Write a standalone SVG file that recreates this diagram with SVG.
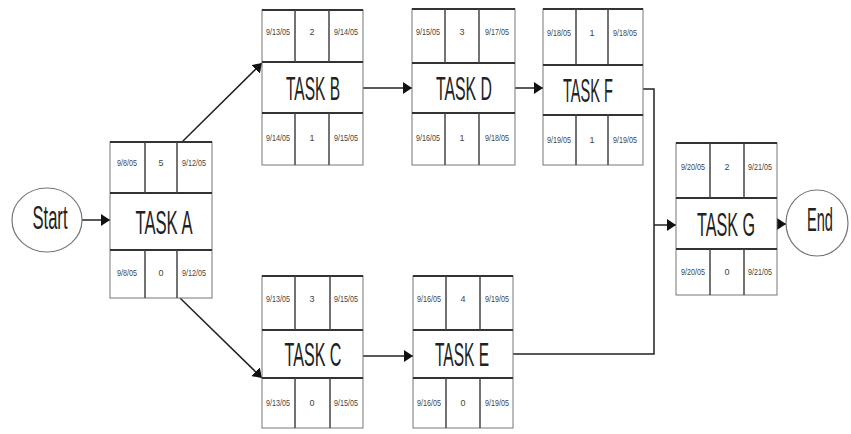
<svg xmlns="http://www.w3.org/2000/svg" width="851" height="434" viewBox="0 0 851 434">
<defs>
<marker id="arr" viewBox="0 0 9 12" refX="9" refY="6" markerWidth="9" markerHeight="12" markerUnits="userSpaceOnUse" orient="auto">
<path d="M0,0 L9,6 L0,12 z" fill="#111"/>
</marker>
<style>
.box{fill:#fff;stroke:#777;stroke-width:1}
.sep{stroke:#333;stroke-width:2}
.div{stroke:#444;stroke-width:1.5}
.name{font-family:"Liberation Sans",Arial,sans-serif;font-size:34px;fill:#222;text-anchor:middle}
.sm{font-family:"Liberation Sans",Arial,sans-serif;font-size:9px;fill:#444;text-anchor:middle}
.term{fill:#fff;stroke:#777;stroke-width:1.2}
.conn{fill:none;stroke:#222;stroke-width:1.5}
</style>
</defs>
<rect width="851" height="434" fill="#fff"/>

<g id="connectors">
<line class="conn" x1="82" y1="220" x2="110" y2="220" marker-end="url(#arr)"/>
<line class="conn" x1="182" y1="142" x2="262" y2="63" marker-end="url(#arr)"/>
<line class="conn" x1="180" y1="298" x2="262" y2="378" marker-end="url(#arr)"/>
<line class="conn" x1="363" y1="88" x2="412" y2="88" marker-end="url(#arr)"/>
<line class="conn" x1="515" y1="88" x2="543" y2="88" marker-end="url(#arr)"/>
<line class="conn" x1="363" y1="356" x2="413" y2="356" marker-end="url(#arr)"/>
<path class="conn" d="M643,89 H654 V354 H513"/>
<line class="conn" x1="654" y1="225" x2="676" y2="225" marker-end="url(#arr)"/>
<line class="conn" x1="777" y1="224" x2="786" y2="224" marker-end="url(#arr)"/>
</g>

<g id="start">
<ellipse class="term" cx="47" cy="220" rx="35" ry="32"/>
<text class="name" x="50" y="229" textLength="35" lengthAdjust="spacingAndGlyphs" font-size="30">Start</text>
</g>

<g id="end">
<ellipse class="term" cx="817" cy="223" rx="31" ry="33"/>
<text class="name" x="820" y="231" textLength="26" lengthAdjust="spacingAndGlyphs" font-size="26">End</text>
</g>

<g id="taskA">
<rect class="box" x="110" y="142" width="102" height="156"/>
<line class="sep" x1="110" y1="142" x2="212" y2="142"/>
<line class="sep" x1="110" y1="193" x2="212" y2="193"/>
<line class="sep" x1="110" y1="250" x2="212" y2="250"/>
<line class="div" x1="145" y1="142" x2="145" y2="193"/>
<line class="div" x1="177" y1="142" x2="177" y2="193"/>
<line class="div" x1="145" y1="250" x2="145" y2="298"/>
<line class="div" x1="177" y1="250" x2="177" y2="298"/>
<text class="sm" x="127" y="166" textLength="20" lengthAdjust="spacingAndGlyphs">9/8/05</text>
<text class="sm" x="161" y="166">5</text>
<text class="sm" x="194" y="166" textLength="24" lengthAdjust="spacingAndGlyphs">9/12/05</text>
<text class="name" x="164" y="234" textLength="57" lengthAdjust="spacingAndGlyphs">TASK A</text>
<text class="sm" x="127" y="276" textLength="20" lengthAdjust="spacingAndGlyphs">9/8/05</text>
<text class="sm" x="161" y="276">0</text>
<text class="sm" x="194" y="276" textLength="24" lengthAdjust="spacingAndGlyphs">9/12/05</text>
</g>

<g id="taskB">
<rect class="box" x="262" y="10" width="101" height="155"/>
<line class="sep" x1="262" y1="10" x2="363" y2="10"/>
<line class="sep" x1="262" y1="62" x2="363" y2="62"/>
<line class="sep" x1="262" y1="113" x2="363" y2="113"/>
<line class="div" x1="295" y1="10" x2="295" y2="62"/>
<line class="div" x1="329" y1="10" x2="329" y2="62"/>
<line class="div" x1="295" y1="113" x2="295" y2="165"/>
<line class="div" x1="329" y1="113" x2="329" y2="165"/>
<text class="sm" x="278" y="35" textLength="24" lengthAdjust="spacingAndGlyphs">9/13/05</text>
<text class="sm" x="312" y="35">2</text>
<text class="sm" x="346" y="35" textLength="24" lengthAdjust="spacingAndGlyphs">9/14/05</text>
<text class="name" x="313" y="100" textLength="54" lengthAdjust="spacingAndGlyphs">TASK B</text>
<text class="sm" x="278" y="141" textLength="24" lengthAdjust="spacingAndGlyphs">9/14/05</text>
<text class="sm" x="312" y="141">1</text>
<text class="sm" x="346" y="141" textLength="24" lengthAdjust="spacingAndGlyphs">9/15/05</text>
</g>

<g id="taskD">
<rect class="box" x="412" y="9" width="103" height="156"/>
<line class="sep" x1="412" y1="9" x2="515" y2="9"/>
<line class="sep" x1="412" y1="63" x2="515" y2="63"/>
<line class="sep" x1="412" y1="113" x2="515" y2="113"/>
<line class="div" x1="445" y1="9" x2="445" y2="63"/>
<line class="div" x1="479" y1="9" x2="479" y2="63"/>
<line class="div" x1="445" y1="113" x2="445" y2="165"/>
<line class="div" x1="479" y1="113" x2="479" y2="165"/>
<text class="sm" x="428" y="35" textLength="24" lengthAdjust="spacingAndGlyphs">9/15/05</text>
<text class="sm" x="462" y="35">3</text>
<text class="sm" x="497" y="35" textLength="24" lengthAdjust="spacingAndGlyphs">9/17/05</text>
<text class="name" x="464" y="100" textLength="56" lengthAdjust="spacingAndGlyphs">TASK D</text>
<text class="sm" x="428" y="141" textLength="24" lengthAdjust="spacingAndGlyphs">9/16/05</text>
<text class="sm" x="462" y="141">1</text>
<text class="sm" x="497" y="141" textLength="24" lengthAdjust="spacingAndGlyphs">9/18/05</text>
</g>

<g id="taskF">
<rect class="box" x="543" y="9" width="100" height="156"/>
<line class="sep" x1="543" y1="9" x2="643" y2="9"/>
<line class="sep" x1="543" y1="65" x2="643" y2="65"/>
<line class="sep" x1="543" y1="115" x2="643" y2="115"/>
<line class="div" x1="576" y1="9" x2="576" y2="65"/>
<line class="div" x1="608" y1="9" x2="608" y2="65"/>
<line class="div" x1="576" y1="115" x2="576" y2="165"/>
<line class="div" x1="608" y1="115" x2="608" y2="165"/>
<text class="sm" x="559" y="36" textLength="24" lengthAdjust="spacingAndGlyphs">9/18/05</text>
<text class="sm" x="592" y="36">1</text>
<text class="sm" x="625" y="36" textLength="24" lengthAdjust="spacingAndGlyphs">9/18/05</text>
<text class="name" x="588" y="102" textLength="50" lengthAdjust="spacingAndGlyphs">TASK F</text>
<text class="sm" x="559" y="143" textLength="24" lengthAdjust="spacingAndGlyphs">9/19/05</text>
<text class="sm" x="592" y="143">1</text>
<text class="sm" x="625" y="143" textLength="24" lengthAdjust="spacingAndGlyphs">9/19/05</text>
</g>

<g id="taskC">
<rect class="box" x="262" y="276" width="101" height="152"/>
<line class="sep" x1="262" y1="276" x2="363" y2="276"/>
<line class="sep" x1="262" y1="330" x2="363" y2="330"/>
<line class="sep" x1="262" y1="378" x2="363" y2="378"/>
<line class="div" x1="295" y1="276" x2="295" y2="330"/>
<line class="div" x1="330" y1="276" x2="330" y2="330"/>
<line class="div" x1="295" y1="378" x2="295" y2="428"/>
<line class="div" x1="330" y1="378" x2="330" y2="428"/>
<text class="sm" x="278" y="302" textLength="24" lengthAdjust="spacingAndGlyphs">9/13/05</text>
<text class="sm" x="312" y="302">3</text>
<text class="sm" x="346" y="302" textLength="24" lengthAdjust="spacingAndGlyphs">9/15/05</text>
<text class="name" x="313" y="366" textLength="57" lengthAdjust="spacingAndGlyphs">TASK C</text>
<text class="sm" x="278" y="406" textLength="24" lengthAdjust="spacingAndGlyphs">9/13/05</text>
<text class="sm" x="312" y="406">0</text>
<text class="sm" x="346" y="406" textLength="24" lengthAdjust="spacingAndGlyphs">9/15/05</text>
</g>

<g id="taskE">
<rect class="box" x="413" y="276" width="100" height="152"/>
<line class="sep" x1="413" y1="276" x2="513" y2="276"/>
<line class="sep" x1="413" y1="330" x2="513" y2="330"/>
<line class="sep" x1="413" y1="378" x2="513" y2="378"/>
<line class="div" x1="446" y1="276" x2="446" y2="330"/>
<line class="div" x1="480" y1="276" x2="480" y2="330"/>
<line class="div" x1="446" y1="378" x2="446" y2="428"/>
<line class="div" x1="480" y1="378" x2="480" y2="428"/>
<text class="sm" x="429" y="302" textLength="24" lengthAdjust="spacingAndGlyphs">9/16/05</text>
<text class="sm" x="463" y="302">4</text>
<text class="sm" x="497" y="302" textLength="24" lengthAdjust="spacingAndGlyphs">9/19/05</text>
<text class="name" x="462" y="366" textLength="54" lengthAdjust="spacingAndGlyphs">TASK E</text>
<text class="sm" x="429" y="406" textLength="24" lengthAdjust="spacingAndGlyphs">9/16/05</text>
<text class="sm" x="463" y="406">0</text>
<text class="sm" x="497" y="406" textLength="24" lengthAdjust="spacingAndGlyphs">9/19/05</text>
</g>

<g id="taskG">
<rect class="box" x="676" y="143" width="101" height="152"/>
<line class="sep" x1="676" y1="143" x2="777" y2="143"/>
<line class="sep" x1="676" y1="198" x2="777" y2="198"/>
<line class="sep" x1="676" y1="249" x2="777" y2="249"/>
<line class="div" x1="710" y1="143" x2="710" y2="198"/>
<line class="div" x1="744" y1="143" x2="744" y2="198"/>
<line class="div" x1="710" y1="249" x2="710" y2="295"/>
<line class="div" x1="744" y1="249" x2="744" y2="295"/>
<text class="sm" x="693" y="170" textLength="24" lengthAdjust="spacingAndGlyphs">9/20/05</text>
<text class="sm" x="727" y="170">2</text>
<text class="sm" x="760" y="170" textLength="24" lengthAdjust="spacingAndGlyphs">9/21/05</text>
<text class="name" x="726" y="236" textLength="58" lengthAdjust="spacingAndGlyphs">TASK G</text>
<text class="sm" x="693" y="275" textLength="24" lengthAdjust="spacingAndGlyphs">9/20/05</text>
<text class="sm" x="727" y="275">0</text>
<text class="sm" x="760" y="275" textLength="24" lengthAdjust="spacingAndGlyphs">9/21/05</text>
</g>
</svg>
